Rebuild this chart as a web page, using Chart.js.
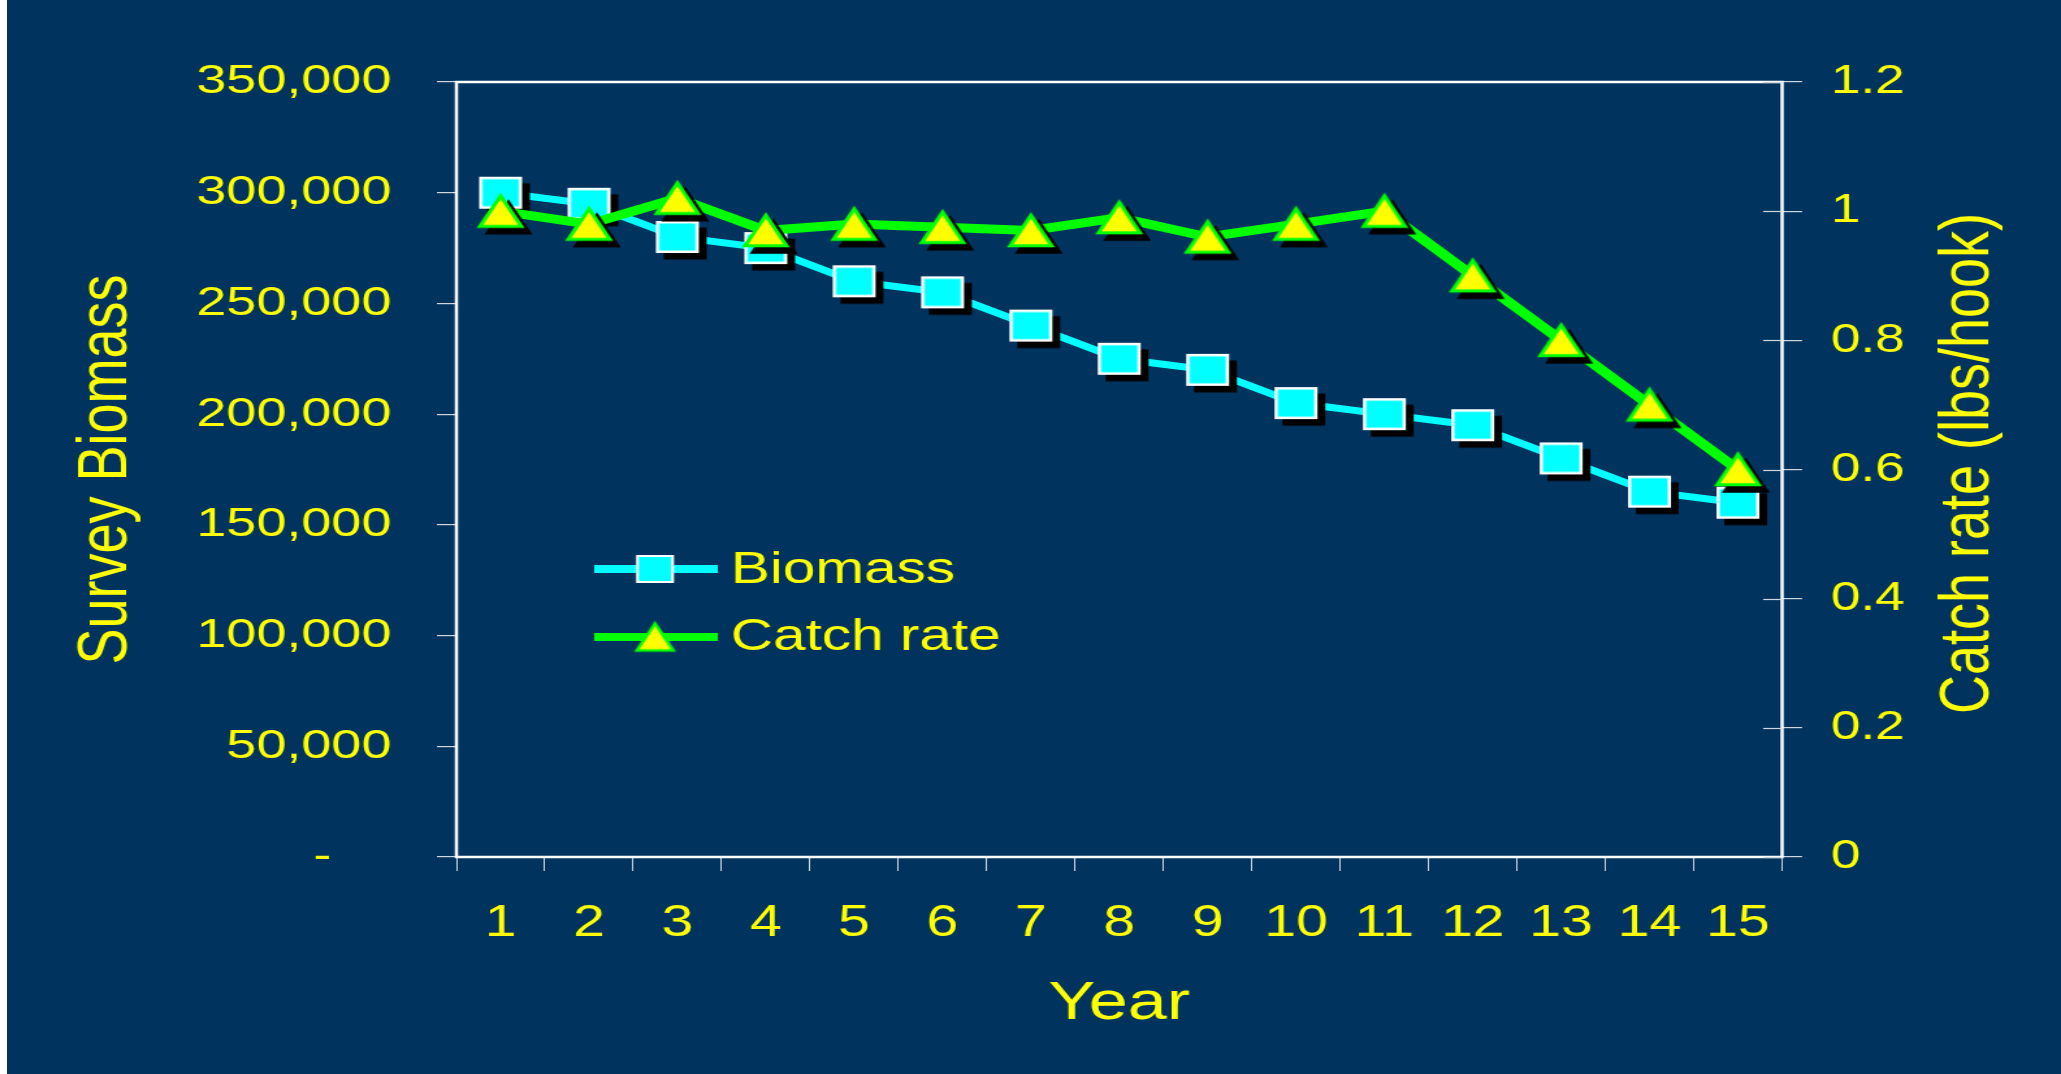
<!DOCTYPE html>
<html>
<head>
<meta charset="utf-8">
<title>Survey Biomass and Catch rate by Year</title>
<script src="https://cdn.jsdelivr.net/npm/chart.js@4.4.1/dist/chart.umd.min.js"></script>
<style>
  html, body { margin: 0; padding: 0; background: #00345F; overflow: hidden; }
  /* the slide is drawn at 1585px wide and stretched out to the full 2061px */
  #stage { position: absolute; left: 0; top: 0; width: 1585px; height: 1074px;
           transform: scaleX(1.30032); transform-origin: 0 0; }
  #edge { position: absolute; left: 0; top: 0; width: 7px; height: 1074px; background: #ffffff; }
</style>
</head>
<body>
<div id="stage"><canvas id="chart" width="1585" height="1074"></canvas></div>
<div id="edge"></div>
<script>
// ---- data ----
const years = ['1', '2', '3', '4', '5', '6', '7', '8', '9', '10', '11', '12', '13', '14', '15'];
const biomass = [300000, 295000, 280000, 275000, 260000, 255000, 240000, 225000,
                 220000, 205000, 200000, 195000, 180000, 165000, 160000];
const catchRate = [1.00, 0.98, 1.02, 0.97, 0.98, 0.975, 0.97, 0.99,
                   0.96, 0.98, 1.00, 0.90, 0.80, 0.70, 0.60];
const biomassTicks = [0, 50000, 100000, 150000, 200000, 250000, 300000, 350000];
const catchTicks = [0, 0.2, 0.4, 0.6, 0.8, 1.0, 1.2];

// ---- styling ----
const YELLOW = '#FFFF00';
const CYAN = '#00FFFF';
const GREEN = '#00FF00';
const TICK = '#cfd6de';
const FONT = '"Liberation Sans", Arial, sans-serif';
Chart.defaults.font.family = FONT;

// Marker sprites: rectangle / triangle with an optional black drop shadow.
function marker(kind, w, h, fill, stroke, lw, shadow) {
  const pad = shadow ? Math.ceil(Math.max(shadow.dx, shadow.dy)) + 4 : 4;
  const c = document.createElement('canvas');
  c.width = Math.ceil(w + 2 * pad);
  c.height = Math.ceil(h + 2 * pad);
  const g = c.getContext('2d');
  const cx = c.width / 2, cy = c.height / 2;
  const path = () => {
    g.beginPath();
    if (kind === 'rect') {
      g.rect(cx - w / 2, cy - h / 2, w, h);
    } else {
      g.moveTo(cx, cy - h / 2);
      g.lineTo(cx + w / 2, cy + h / 2);
      g.lineTo(cx - w / 2, cy + h / 2);
      g.closePath();
    }
  };
  g.lineJoin = 'miter';
  if (shadow) {
    g.save();
    g.translate(shadow.dx, shadow.dy);
    path();
    g.fillStyle = '#000'; g.fill();
    g.lineWidth = lw; g.strokeStyle = '#000'; g.stroke();
    g.restore();
  }
  path();
  g.fillStyle = fill; g.fill();
  g.lineWidth = lw; g.strokeStyle = stroke; g.stroke();
  return c;
}
const SHADOW = { dx: 6, dy: 6.5 };
const squarePt = marker('rect', 30.5, 29.5, CYAN, '#FFFFFF', 2.5, SHADOW);
const trianglePt = marker('tri', 32, 30.5, YELLOW, GREEN, 3, SHADOW);
const squareKey = marker('rect', 27, 26, CYAN, '#FFFFFF', 2.2, null);
const triangleKey = marker('tri', 28, 27, YELLOW, GREEN, 2.6, null);

// Plot frame, inner half of the right-hand ticks, rotated right title.
const framePlugin = {
  id: 'frame',
  beforeDatasetsDraw(chart) {
    const { ctx, chartArea: a } = chart;
    ctx.save();
    ctx.strokeStyle = '#FFFFFF';
    ctx.lineWidth = 2.5;
    ctx.strokeRect(a.left, a.top, a.right - a.left, a.bottom - a.top);
    const s = chart.scales.y1;
    ctx.strokeStyle = TICK;
    ctx.lineWidth = 1.2;
    s.ticks.forEach(t => {
      const y = Math.round(s.getPixelForValue(t.value)) + 0.5;
      ctx.beginPath();
      ctx.moveTo(a.right - 14.6, y);
      ctx.lineTo(a.right, y);
      ctx.stroke();
    });
    ctx.restore();
  },
  afterDraw(chart) {
    const { ctx } = chart;
    ctx.save();
    ctx.translate(1514, 463.5);
    ctx.rotate(-Math.PI / 2);
    ctx.font = '54px ' + FONT;
    ctx.fillStyle = YELLOW;
    ctx.textAlign = 'center';
    ctx.textBaseline = 'middle';
    ctx.fillText('Catch rate (lbs/hook)', 0, 0);
    ctx.restore();
  }
};

// Legend drawn inside the plot: a line sample with the marker, then the label.
const keyPlugin = {
  id: 'keyBox',
  afterDraw(chart) {
    const { ctx } = chart;
    const rows = [
      { y: 569, text: 571, img: squareKey },
      { y: 637, text: 637.5, img: triangleKey }
    ];
    chart.data.datasets.forEach((ds, i) => {
      const r = rows[i];
      ctx.save();
      ctx.strokeStyle = ds.borderColor;
      ctx.lineWidth = 8;
      ctx.beginPath();
      ctx.moveTo(457, r.y);
      ctx.lineTo(552, r.y);
      ctx.stroke();
      ctx.drawImage(r.img, 503.7 - r.img.width / 2, r.y - r.img.height / 2);
      ctx.font = '45px ' + FONT;
      ctx.fillStyle = YELLOW;
      ctx.textAlign = 'left';
      ctx.textBaseline = 'middle';
      ctx.fillText(ds.label, 562, r.text);
      ctx.restore();
    });
  }
};

new Chart(document.getElementById('chart'), {
  type: 'line',
  data: {
    labels: years,
    datasets: [
      {
        label: 'Biomass',
        data: biomass,
        yAxisID: 'y',
        borderColor: CYAN,
        borderWidth: 7,
        pointStyle: squarePt,
        order: 2,
        tension: 0
      },
      {
        label: 'Catch rate',
        data: catchRate,
        yAxisID: 'y1',
        borderColor: GREEN,
        borderWidth: 9,
        pointStyle: trianglePt,
        order: 1,
        tension: 0
      }
    ]
  },
  options: {
    responsive: false,
    animation: false,
    events: [],
    devicePixelRatio: 1,
    layout: { padding: { top: 82, left: 0, right: 0, bottom: 0 } },
    plugins: { legend: { display: false }, tooltip: { enabled: false } },
    scales: {
      x: {
        type: 'category',
        offset: true,
        grid: { display: true, drawOnChartArea: false, offset: true, tickLength: 14, color: TICK, lineWidth: 1 },
        border: { display: false },
        ticks: { color: YELLOW, font: { size: 44 }, padding: 26.5, maxRotation: 0, autoSkip: false },
        title: { display: true, text: 'Year', color: YELLOW, font: { size: 54 }, padding: { top: 0, bottom: 37 } },
        afterFit(s) { s.height = 217; }
      },
      y: {
        position: 'left',
        min: 0,
        max: 350000,
        afterBuildTicks(s) { s.ticks = biomassTicks.map(v => ({ value: v })); },
        grid: { drawOnChartArea: false, tickLength: 15, color: TICK, lineWidth: 1.2 },
        border: { display: false },
        ticks: {
          color: YELLOW,
          font: { size: 41.5 },
          padding: 35,
          callback: v => (v === 0 ? '-    ' : Number(v).toLocaleString('en-US'))
        },
        title: { display: true, text: 'Survey Biomass', color: YELLOW, font: { size: 54 }, padding: { top: 49.6, bottom: 0 } },
        afterFit(s) { s.width = 351; }
      },
      y1: {
        position: 'right',
        min: 0,
        max: 1.2,
        afterBuildTicks(s) { s.ticks = catchTicks.map(v => ({ value: v })); },
        grid: { drawOnChartArea: false, tickLength: 15.4, color: TICK, lineWidth: 1.2 },
        border: { display: false },
        ticks: {
          color: YELLOW,
          font: { size: 41 },
          padding: 22,
          callback: v => String(+Number(v).toFixed(1))
        },
        title: { display: false },
        afterFit(s) { s.width = 214.5; }
      }
    }
  },
  plugins: [framePlugin, keyPlugin]
});
</script>
</body>
</html>
